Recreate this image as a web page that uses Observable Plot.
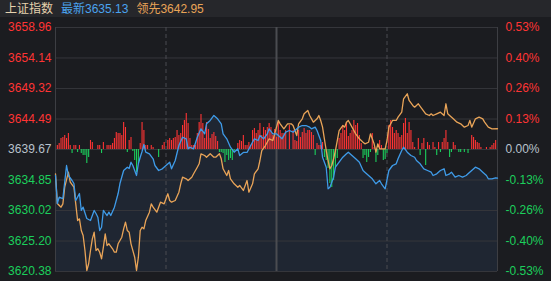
<!DOCTYPE html>
<html><head><meta charset="utf-8">
<script src="https://cdn.jsdelivr.net/npm/d3@7"></script>
<script src="https://cdn.jsdelivr.net/npm/@observablehq/plot@0.6"></script>
<style>
html,body{margin:0;padding:0;background:#1b1c20;}
body{width:551px;height:281px;overflow:hidden;font-family:"Liberation Sans","Noto Sans CJK SC",sans-serif;}
#title{height:17px;background:#26272b;font-size:12px;line-height:18px;padding-left:5px;white-space:nowrap;}
#title span{margin-right:8px;}
#chart svg{display:block;overflow:visible;}
</style></head><body>
<div id="title"><span style="color:#e6d2ae">上证指数</span><span style="color:#4aa3ef">最新3635.13</span><span style="color:#e9a457">领先3642.95</span></div>
<div id="chart"></div>
<script>
const prevClose = 3639.67;
const priceTicks = [3658.96, 3654.14, 3649.32, 3644.49, 3639.67, 3634.85, 3630.02, 3625.20, 3620.38];
const pctLabels = ["0.53%", "0.40%", "0.26%", "0.13%", "0.00%", "-0.13%", "-0.26%", "-0.40%", "-0.53%"];

// 上证指数 (latest) — minute index from 9:30 (0..240)
const blueMinutes = [0,1,2,4,6,7,9,10,11,13,14,15,17,19,21,22,23,24,25,26,28,29,30,32,34,35,37,39,40,41,42,43,44,45,46,47,48,49,51,53,54,56,58,60,62,63,65,67,69,71,72,73,75,77,79,81,82,84,86,88,90,91,93,95,97,99,100,102,104,106,108,110,111,113,115,116,118,120,121,123,125,127,129,132,134,136,138,139,141,142,144,145,147,148,149,151,152,154,156,158,159,161,163,165,167,168,170,172,174,176,177,179,181,183,185,186,188,189,191,193,195,196,198,200,202,204,205,207,209,211,212,214,215,217,219,221,223,224,226,228,230,232,234,235,237,239,240];
const bluePrices = [3635.56,3631.13,3632.13,3631.92,3637.14,3635.56,3634.77,3634.29,3631.61,3632.71,3630.03,3630.55,3628.76,3628.44,3630.03,3629.55,3628.97,3626.86,3627.38,3630.03,3629.23,3629.76,3629.23,3630.55,3632.71,3634.29,3636.35,3636.87,3636.67,3637.66,3637.14,3636.35,3635.56,3637.46,3638.45,3639.35,3640.46,3639.24,3638.99,3638.20,3637.14,3636.35,3636.62,3637.14,3637.66,3636.62,3637.93,3640.30,3641.61,3641.36,3639.78,3640.03,3639.78,3641.61,3642.94,3642.15,3643.73,3644.26,3645.05,3644.52,3643.73,3642.15,3641.36,3640.03,3639.24,3639.78,3638.72,3639.20,3639.20,3640.30,3641.36,3641.09,3641.88,3641.36,3642.15,3642.94,3642.15,3642.15,3641.88,3641.36,3642.41,3642.67,3642.41,3643.20,3643.46,3643.46,3643.20,3642.94,3643.20,3642.67,3641.09,3638.45,3636.87,3633.46,3633.71,3635.29,3636.87,3637.66,3638.45,3638.99,3639.24,3638.72,3638.20,3637.66,3636.35,3636.08,3635.56,3635.04,3634.25,3634.77,3634.25,3633.46,3636.35,3637.14,3637.41,3638.20,3639.51,3640.03,3639.24,3638.72,3638.45,3637.93,3637.41,3636.62,3636.35,3636.08,3635.56,3635.83,3636.35,3636.62,3635.56,3635.83,3636.08,3635.29,3635.56,3635.29,3635.56,3635.83,3636.35,3636.87,3636.62,3636.08,3635.56,3635.04,3635.04,3635.20,3635.13];

// 领先指标
const orangeMinutes = [0,1,3,4,5,7,8,10,11,12,13,14,15,16,17,18,19,20,21,22,23,24,25,26,27,28,29,31,32,33,34,36,37,38,39,40,41,43,44,45,46,47,48,49,51,52,53,55,56,57,59,61,62,63,65,67,68,69,71,72,74,75,77,78,79,81,82,84,86,87,89,90,91,93,94,95,97,99,100,102,103,104,105,107,108,110,111,112,114,116,118,119,121,122,124,126,128,129,131,132,134,135,137,138,140,142,143,144,145,146,147,148,149,150,151,152,153,154,156,157,158,159,161,163,165,167,168,170,171,173,174,175,176,177,179,180,181,183,185,186,188,189,191,192,194,195,197,199,201,203,204,205,207,209,211,212,213,214,216,218,220,222,224,225,226,228,230,232,233,235,237,240];
const orangePrices = [3635.83,3631.13,3630.55,3631.08,3633.71,3636.08,3634.50,3633.71,3631.08,3628.44,3628.71,3626.86,3626.07,3623.70,3620.54,3621.60,3623.70,3625.55,3626.59,3623.70,3623.97,3623.43,3622.39,3624.22,3626.34,3624.49,3624.76,3623.97,3623.43,3623.43,3624.76,3625.80,3627.13,3628.18,3626.86,3626.59,3624.76,3622.64,3620.54,3622.64,3626.86,3627.38,3627.13,3628.44,3629.76,3631.08,3630.55,3629.76,3630.55,3631.34,3631.08,3632.67,3631.61,3631.34,3631.61,3632.92,3634.25,3635.29,3635.04,3634.77,3635.29,3635.83,3636.87,3637.41,3638.99,3638.72,3638.45,3638.99,3638.45,3638.45,3638.99,3638.20,3636.62,3635.56,3636.35,3635.04,3634.25,3633.71,3633.98,3633.19,3633.98,3634.77,3632.92,3634.25,3635.83,3636.62,3637.93,3639.51,3640.30,3641.36,3641.09,3642.15,3644.26,3643.73,3642.94,3643.73,3643.73,3643.46,3641.88,3643.73,3644.52,3645.31,3645.84,3645.05,3643.99,3644.52,3645.05,3644.26,3643.20,3641.36,3639.51,3637.93,3636.62,3637.14,3638.20,3639.51,3641.09,3642.67,3643.46,3643.20,3643.99,3644.26,3643.20,3642.15,3641.36,3640.82,3640.57,3640.82,3642.15,3640.57,3639.24,3640.57,3639.78,3639.78,3639.78,3641.09,3643.20,3644.26,3644.26,3644.78,3645.57,3647.69,3648.48,3647.42,3646.63,3646.36,3646.90,3646.11,3645.31,3645.05,3645.31,3645.05,3645.31,3645.57,3645.05,3646.90,3645.31,3645.05,3644.52,3643.99,3643.73,3643.20,3643.46,3644.26,3643.20,3644.52,3644.78,3644.52,3643.99,3643.20,3642.94,3642.95];

// 涨跌力度 bars (positive = red, negative = green)
const barMinutes = [1,2,3,4,5,6,7,8,9,10,11,12,13,14,15,16,17,18,19,20,23,24,25,26,28,29,30,31,32,33,34,35,36,37,38,39,40,41,42,43,44,45,46,47,48,49,50,52,53,56,58,59,61,62,63,64,65,66,67,68,69,70,71,72,73,74,75,76,77,78,79,80,81,82,83,84,85,86,87,88,89,90,91,92,93,94,95,96,97,99,100,101,102,103,104,105,106,107,108,109,110,111,112,113,114,115,116,117,118,119,120,121,122,123,124,125,127,129,130,131,132,133,134,135,136,137,138,139,140,141,142,143,144,145,146,147,148,149,150,151,152,153,154,155,156,157,158,159,160,161,162,163,164,165,166,167,168,169,170,171,172,173,174,175,176,177,178,179,180,181,182,183,184,185,186,187,188,189,190,191,192,193,194,195,197,198,199,200,201,202,203,205,206,207,208,209,210,211,212,213,214,215,216,217,219,220,222,224,226,227,228,229,230,231,234,236,237,238,239];
const barValues = [4,6,11,12,14,11,16,4,-4,4,4,-3,4,-4,-6,-6,-14,-8,9,7,4,4,-4,7,4,4,4,6,11,17,16,16,14,27,22,-3,9,12,-2,-11,-23,-14,6,27,19,4,4,4,2,-8,4,7,9,11,9,11,12,19,14,16,24,29,36,26,11,4,4,4,16,27,35,26,11,27,20,11,15,17,13,8,-3,-3,-4,-13,-6,-11,-9,-11,-3,6,9,8,14,4,4,7,4,19,21,16,19,26,14,22,19,22,26,22,14,20,12,27,19,16,16,19,24,19,9,8,19,12,17,21,16,19,19,17,14,-6,6,4,4,7,-8,-11,-19,-34,-38,-31,-18,-9,11,16,24,19,27,13,16,19,29,24,26,14,6,-9,-6,-13,-8,-3,16,2,-13,-6,9,4,-11,-10,-4,24,29,22,16,19,16,12,14,26,31,16,27,19,7,2,11,-6,6,11,-16,7,4,7,2,-6,7,-3,7,11,19,7,-8,-3,7,4,-3,-3,-3,-4,14,12,9,7,6,2,2,2,4,6,9];

const barScale = 19.29 / 122; // index points per bar unit
const red = "#ff3434", green = "#1ccf5c", neutral = "#b9c2cc";

const blue = blueMinutes.map((t, i) => ({t, v: bluePrices[i]}));
const orange = orangeMinutes.map((t, i) => ({t, v: orangePrices[i]}));
const bars = barMinutes.map((t, i) => ({t, v: barValues[i]}));
const ticks = priceTicks.map((p, i) => ({p, label: p.toFixed(2), pct: pctLabels[i]}));
const yMin = priceTicks[priceTicks.length - 1], yMax = priceTicks[0];

const labelMarks = [];
for (const [filter, col] of [[d => d.p > prevClose, red], [d => d.p < prevClose, green], [d => d.p === prevClose, neutral]]) {
  const sub = ticks.filter(filter);
  labelMarks.push(Plot.text(sub, {x: 0, y: "p", text: "label", textAnchor: "end", dx: -4, fill: col, fontSize: 12}));
  labelMarks.push(Plot.text(sub, {x: 240, y: "p", text: "pct", textAnchor: "start", dx: 8, fill: col, fontSize: 12}));
}

const chart = Plot.plot({
  width: 551, height: 264,
  marginTop: 10, marginBottom: 10, marginLeft: 55, marginRight: 54,
  style: {background: "transparent", fontFamily: "'Liberation Sans','Noto Sans CJK SC',sans-serif", fontSize: "12px"},
  x: {domain: [0, 240], axis: null},
  y: {domain: [yMin, yMax], axis: null},
  marks: [
    Plot.areaY(blue, {x: "t", y1: yMin, y2: "v", fill: "#1f2632"}),
    Plot.ruleY(priceTicks, {stroke: "#35363b", strokeWidth: 1}),
    Plot.ruleX([60, 180], {stroke: "#4a4b50", strokeDasharray: "4,3"}),
    Plot.ruleX([120], {stroke: "#4b4c51", strokeWidth: 2}),
    Plot.ruleX([0, 240], {stroke: "#3d3e43"}),
    Plot.ruleX(bars.filter(d => d.v > 0), {x: "t", y1: prevClose, y2: d => prevClose + d.v * barScale, stroke: red, strokeWidth: 1.1}),
    Plot.ruleX(bars.filter(d => d.v < 0), {x: "t", y1: prevClose, y2: d => prevClose + d.v * barScale, stroke: green, strokeWidth: 1.1}),
    Plot.line(orange, {x: "t", y: "v", stroke: "#e9a458", strokeWidth: 1.3}),
    Plot.line(blue, {x: "t", y: "v", stroke: "#3f9be8", strokeWidth: 1.3}),
    ...labelMarks
  ]
});
document.getElementById("chart").appendChild(chart);
</script>
</body></html>
